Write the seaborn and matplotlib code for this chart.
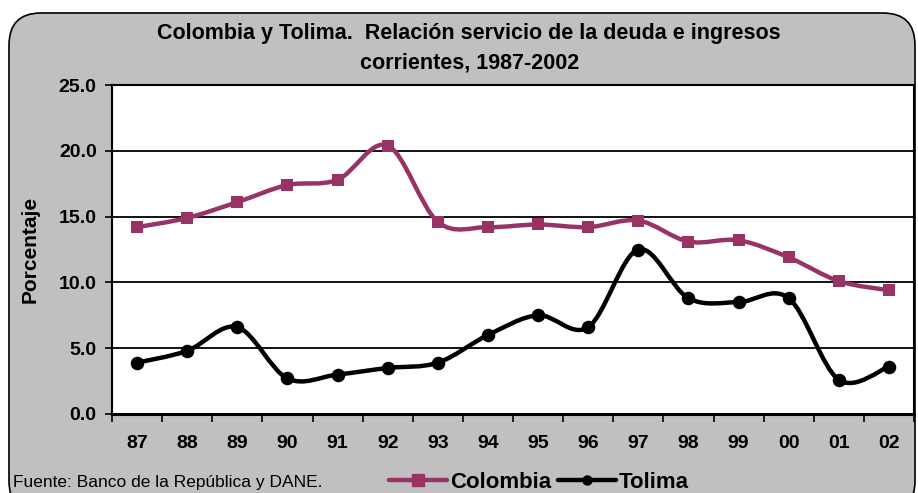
import numpy as np
import pandas as pd
import seaborn as sns
import matplotlib
matplotlib.use("Agg")
import matplotlib.pyplot as plt
from matplotlib.path import Path
from matplotlib.patches import PathPatch, FancyBboxPatch
from matplotlib.lines import Line2D

# Series data
years = ["87", "88", "89", "90", "91", "92", "93", "94",
         "95", "96", "97", "98", "99", "00", "01", "02"]
colombia = [14.2, 14.9, 16.1, 17.4, 17.8, 20.4, 14.6, 14.2,
            14.4, 14.2, 14.7, 13.1, 13.2, 11.9, 10.1, 9.4]
tolima = [3.9, 4.8, 6.6, 2.7, 3.0, 3.5, 3.9, 6.0,
          7.5, 6.6, 12.5, 8.8, 8.5, 8.8, 2.6, 3.6]

title_lines = ["Colombia y Tolima.  Relación servicio de la deuda e ingresos",
               "corrientes, 1987-2002"]
source = "Fuente: Banco de la República y DANE."

COL_C = "#993366"
COL_T = "#000000"

sns.set_theme(style="white")
plt.rcParams["font.family"] = ["Liberation Sans", "DejaVu Sans"]
plt.rcParams["text.color"] = "black"
plt.rcParams["axes.labelcolor"] = "black"
plt.rcParams["xtick.color"] = "black"
plt.rcParams["ytick.color"] = "black"

W, H = 918, 493
fig = plt.figure(figsize=(W / 100, H / 100), dpi=100)
fig.patch.set_facecolor("white")

# rounded grey chart frame, kept behind the axes
frame = FancyBboxPatch((9 / W, -20 / H), 906 / W, (H - 13 + 20) / H,
                       boxstyle="round,pad=0,rounding_size=0.035",
                       transform=fig.transFigure, facecolor="#C0C0C0",
                       edgecolor="black", linewidth=1.2, mutation_aspect=W / H,
                       zorder=-5)
fig.patches.append(frame)

ax = fig.add_axes([112 / W, 1 - 414 / H, (914 - 112) / W, (414 - 85) / H])
ax.set_zorder(2)
ax.set_facecolor("white")

x = np.arange(len(years))
df = pd.DataFrame({"x": np.concatenate([x, x]),
                   "valor": colombia + tolima,
                   "serie": ["Colombia"] * len(x) + ["Tolima"] * len(x)})


def smooth_path(xs, ys):
    """Bezier path through the points, in the style of a smoothed line chart."""
    pts = np.column_stack([xs, ys]).astype(float)
    n = len(pts)
    verts = [pts[0]]
    codes = [Path.MOVETO]
    for i in range(n - 1):
        p0 = pts[i - 1] if i > 0 else pts[i]
        p1 = pts[i]
        p2 = pts[i + 1]
        p3 = pts[i + 2] if i + 2 < n else pts[i + 1]
        c1 = p1 + (p2 - p0) / 6.0
        c2 = p2 - (p3 - p1) / 6.0
        verts += [c1, c2, p2]
        codes += [Path.CURVE4] * 3
    return Path(verts, codes)


for vals, col in [(colombia, COL_C), (tolima, COL_T)]:
    ax.add_patch(PathPatch(smooth_path(x, vals), facecolor="none", edgecolor=col,
                           linewidth=3.2, capstyle="round", joinstyle="round", zorder=3))

sns.scatterplot(data=df[df.serie == "Colombia"], x="x", y="valor", marker="s",
                color=COL_C, s=75, edgecolor=COL_C, linewidth=0, ax=ax, zorder=4,
                legend=False)
sns.scatterplot(data=df[df.serie == "Tolima"], x="x", y="valor", marker="o",
                color=COL_T, s=95, edgecolor=COL_T, linewidth=0, ax=ax, zorder=4,
                legend=False)

ax.set_xlim(-0.5, len(years) - 0.5)
ax.set_ylim(0, 25)
yt = np.arange(0, 25.1, 5)
ax.set_yticks(yt)
ax.set_yticklabels([f"{v:.1f}" for v in yt], fontsize=14, fontweight="bold")
ax.yaxis.grid(True, color="black", linewidth=1.3)
ax.set_axisbelow(True)

# category boundaries as tick marks, labels centred on categories
ax.set_xticks(np.arange(-0.5, len(years), 1.0))
ax.set_xticklabels([])
ax.set_xticks(x, minor=True)
ax.set_xticklabels(years, minor=True, fontsize=14, fontweight="bold")
ax.tick_params(axis="x", which="major", direction="out", length=6, width=1.2,
               color="black", bottom=True)
ax.tick_params(axis="x", which="minor", length=0, pad=15)
ax.tick_params(axis="y", direction="out", length=5, width=1.2, color="black",
               left=True, pad=6)
ax.set_xlabel("")
ax.set_ylabel("Porcentaje", fontsize=15, fontweight="bold")
ax.yaxis.set_label_coords((40 - 112) / (914 - 112), 0.5)

for side in ["left", "right", "top"]:
    ax.spines[side].set_color("black")
    ax.spines[side].set_linewidth(1.5)
ax.spines["bottom"].set_color("black")
ax.spines["bottom"].set_linewidth(2.2)

fig.text(469 / W, 1 - 33 / H, title_lines[0], ha="center", va="center",
         fontsize=15.5, fontweight="bold")
fig.text(470 / W, 1 - 63 / H, title_lines[1], ha="center", va="center",
         fontsize=15.5, fontweight="bold")

fig.text(13 / W, 1 - 483 / H, source, ha="left", va="center", fontsize=12.5)

handles = [Line2D([], [], color=COL_C, linewidth=3.2, marker="s", markersize=8),
           Line2D([], [], color=COL_T, linewidth=3.2, marker="o", markersize=6.5)]
fig.legend(handles, ["Colombia", "Tolima"], loc="center left",
           bbox_to_anchor=(389 / W, 1 - 482 / H), ncol=2, frameon=False,
           prop={"size": 16, "weight": "bold"}, handlelength=2.6,
           handletextpad=0.15, columnspacing=0.3, borderpad=0, borderaxespad=0)

fig.savefig("out.png", dpi=100, facecolor=fig.get_facecolor())
